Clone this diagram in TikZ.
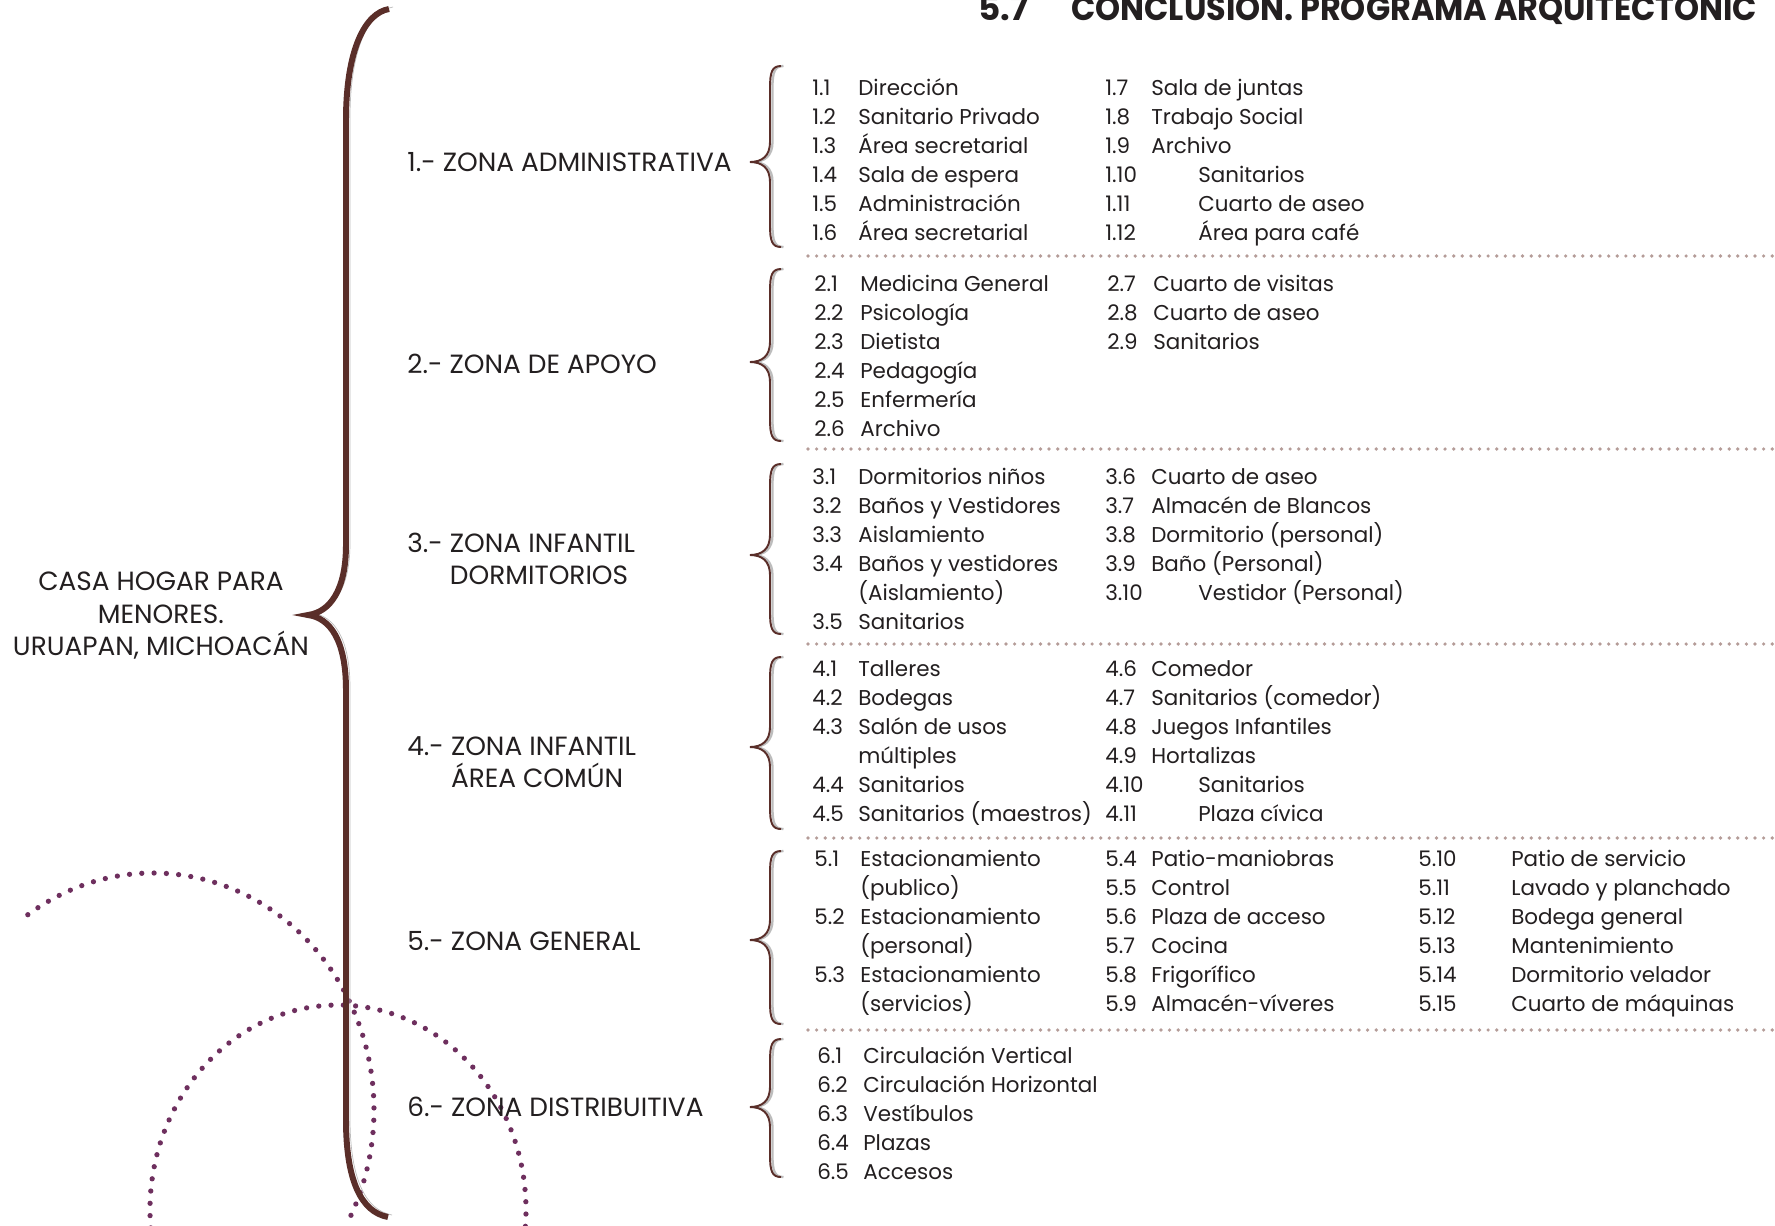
\documentclass[tikz,border=0pt]{standalone}
\usepackage{fontspec}
\setmainfont{Poppins}
\usepackage{xcolor}
\usepackage{graphicx}
\usetikzlibrary{positioning}
\definecolor{bracebrown}{HTML}{5A2E29}
\definecolor{braceshade}{HTML}{BDBDBD}
\definecolor{sepdot}{HTML}{B59C98}
\definecolor{plumdot}{HTML}{6E2F5E}
\definecolor{inktext}{HTML}{231F20}
\newcommand{\ntab}[1]{\makebox[0.92cm][l]{#1}}
\newcommand{\wtab}[1]{\makebox[1.86cm][l]{#1}}

\begin{document}
\begin{tikzpicture}[
    x=0.02cm, y=-0.02cm,
    every node/.style={text=inktext, inner sep=0pt},
    itm/.style={font=\fontsize{12.2}{14}\selectfont, anchor=base west},
    zona/.style={font=\fontsize{15}{18}\selectfont, anchor=west, align=left},
    titulo/.style={font=\fontsize{19.5}{22}\selectfont\bfseries, anchor=base west},
    bigbrace/.style={line width=3.4pt, bracebrown, preaction={draw=braceshade, transform canvas={shift={(4,-2)}}}},
    zbrace/.style={line width=1.1pt, bracebrown, preaction={draw=braceshade, line width=1.3pt, transform canvas={shift={(2.5,0)}}}},
    sepline/.style={sepdot, line width=2.1pt, line cap=round, dash pattern=on 0pt off 4.9pt},
    plumline/.style={plumdot, line width=3pt, line cap=round, dash pattern=on 0pt off 7pt}
]
\path[use as bounding box, fill=white] (0,0) rectangle (1775,1225);

\node[titulo] (tit) at (978,20) {\makebox[1.86cm][l]{5.7}\scalebox{0.93}[1]{CONCLUSION. PROGRAMA ARQUITECTONIC}};

% dotted circles behind
\draw[plumline] (153,1110) ++(-124.5:221 and 237) arc[start angle=-124.5, end angle=28.5, x radius=221, y radius=237];
\draw[plumline] (338,1210) ++(-185:188 and 205) arc[start angle=-185, end angle=5, x radius=188, y radius=205];

% main brace
\draw[bigbrace] (389,9) .. controls (365,13) and (346,50) .. (346,120) -- (346,545)
    .. controls (346,590) and (330,612) .. (308,615)
    .. controls (330,618) and (346,640) .. (346,690) -- (346,1120)
    .. controls (346,1180) and (361,1212) .. (388,1217);

\node[zona, align=center, anchor=center, font=\fontsize{15}{18.5}\selectfont] (casa) at (161,616) {CASA HOGAR PARA\\MENORES.\\URUAPAN, MICHOACÁN};

% zones
\node[zona] (zona1) at (407,162) {1.- ZONA ADMINISTRATIVA};
\node[zona] (zona2) at (407,364) {2.- ZONA DE APOYO};
\node[zona] (zona3) at (407,559) {3.- ZONA INFANTIL\\\phantom{3.- }DORMITORIOS};
\node[zona] (zona4) at (407,762) {4.- ZONA INFANTIL\\\phantom{4.- }ÁREA COMÚN};
\node[zona] (zona5) at (407,941) {5.- ZONA GENERAL};
\node[zona] (zona6) at (407,1107) {6.- ZONA DISTRIBUITIVA};

\foreach \t/\m/\b in {66/162/247, 269/362/441, 464/555/634, 657/747/829, 851/940/1024, 1039/1107/1177}
  \draw[zbrace] (781,\t) .. controls (772,\t) and (770,\t+6) .. (770,\t+22) -- (770,\m-20)
      .. controls (770,\m-6) and (762,\m) .. (750,\m)
      .. controls (762,\m) and (770,\m+6) .. (770,\m+20) -- (770,\b-22)
      .. controls (770,\b-6) and (772,\b) .. (781,\b);

\foreach \y in {256,449,644,838,1030}
  \draw[sepline] (808,\y) -- (1775,\y);

% 1 administrativa
\foreach \t [count=\i] in {\ntab{1.1}Dirección, \ntab{1.2}Sanitario Privado, \ntab{1.3}Área secretarial,
    \ntab{1.4}Sala de espera, \ntab{1.5}Administración, \ntab{1.6}Área secretarial}
  \node[itm] (z1a\i) at (812,{95+29*(\i-1)}) {\t};
\foreach \t [count=\i] in {\ntab{1.7}Sala de juntas, \ntab{1.8}Trabajo Social, \ntab{1.9}Archivo,
    \wtab{1.10}Sanitarios, \wtab{1.11}Cuarto de aseo, \wtab{1.12}Área para café}
  \node[itm] (z1b\i) at (1105,{95+29*(\i-1)}) {\t};

% 2 apoyo
\foreach \t [count=\i] in {\ntab{2.1}Medicina General, \ntab{2.2}Psicología, \ntab{2.3}Dietista,
    \ntab{2.4}Pedagogía, \ntab{2.5}Enfermería, \ntab{2.6}Archivo}
  \node[itm] (z2a\i) at (814,{291+29*(\i-1)}) {\t};
\foreach \t [count=\i] in {\ntab{2.7}Cuarto de visitas, \ntab{2.8}Cuarto de aseo, \ntab{2.9}Sanitarios}
  \node[itm] (z2b\i) at (1107,{291+29*(\i-1)}) {\t};

% 3 dormitorios
\foreach \t [count=\i] in {\ntab{3.1}Dormitorios niños, \ntab{3.2}Baños y Vestidores, \ntab{3.3}Aislamiento,
    \ntab{3.4}Baños y vestidores, \ntab{}(Aislamiento), \ntab{3.5}Sanitarios}
  \node[itm] (z3a\i) at (812,{484+29*(\i-1)}) {\t};
\foreach \t [count=\i] in {\ntab{3.6}Cuarto de aseo, \ntab{3.7}Almacén de Blancos, \ntab{3.8}Dormitorio (personal),
    \ntab{3.9}Baño (Personal), \wtab{3.10}Vestidor (Personal)}
  \node[itm] (z3b\i) at (1105,{484+29*(\i-1)}) {\t};

% 4 area comun
\foreach \t [count=\i] in {\ntab{4.1}Talleres, \ntab{4.2}Bodegas, \ntab{4.3}Salón de usos,
    \ntab{}múltiples, \ntab{4.4}Sanitarios, \ntab{4.5}Sanitarios (maestros)}
  \node[itm] (z4a\i) at (812,{676+29*(\i-1)}) {\t};
\foreach \t [count=\i] in {\ntab{4.6}Comedor, \ntab{4.7}Sanitarios (comedor), \ntab{4.8}Juegos Infantiles,
    \ntab{4.9}Hortalizas, \wtab{4.10}Sanitarios, \wtab{4.11}Plaza cívica}
  \node[itm] (z4b\i) at (1105,{676+29*(\i-1)}) {\t};

% 5 general
\foreach \t [count=\i] in {\ntab{5.1}Estacionamiento, \ntab{}(publico), \ntab{5.2}Estacionamiento,
    \ntab{}(personal), \ntab{5.3}Estacionamiento, \ntab{}(servicios)}
  \node[itm] (z5a\i) at (814,{866+29*(\i-1)}) {\t};
\foreach \t [count=\i] in {\ntab{5.4}Patio-maniobras, \ntab{5.5}Control, \ntab{5.6}Plaza de acceso,
    \ntab{5.7}Cocina, \ntab{5.8}Frigorífico, \ntab{5.9}Almacén-víveres}
  \node[itm] (z5b\i) at (1105,{866+29*(\i-1)}) {\t};
\foreach \t [count=\i] in {\wtab{5.10}Patio de servicio, \wtab{5.11}Lavado y planchado, \wtab{5.12}Bodega general,
    \wtab{5.13}Mantenimiento, \wtab{5.14}Dormitorio velador, \wtab{5.15}Cuarto de máquinas}
  \node[itm] (z5c\i) at (1418,{866+29*(\i-1)}) {\t};

% 6 distributiva
\foreach \t [count=\i] in {\ntab{6.1}Circulación Vertical, \ntab{6.2}Circulación Horizontal, \ntab{6.3}Vestíbulos,
    \ntab{6.4}Plazas, \ntab{6.5}Accesos}
  \node[itm] (z6a\i) at (817,{1063+29*(\i-1)}) {\t};

\end{tikzpicture}
\end{document}
